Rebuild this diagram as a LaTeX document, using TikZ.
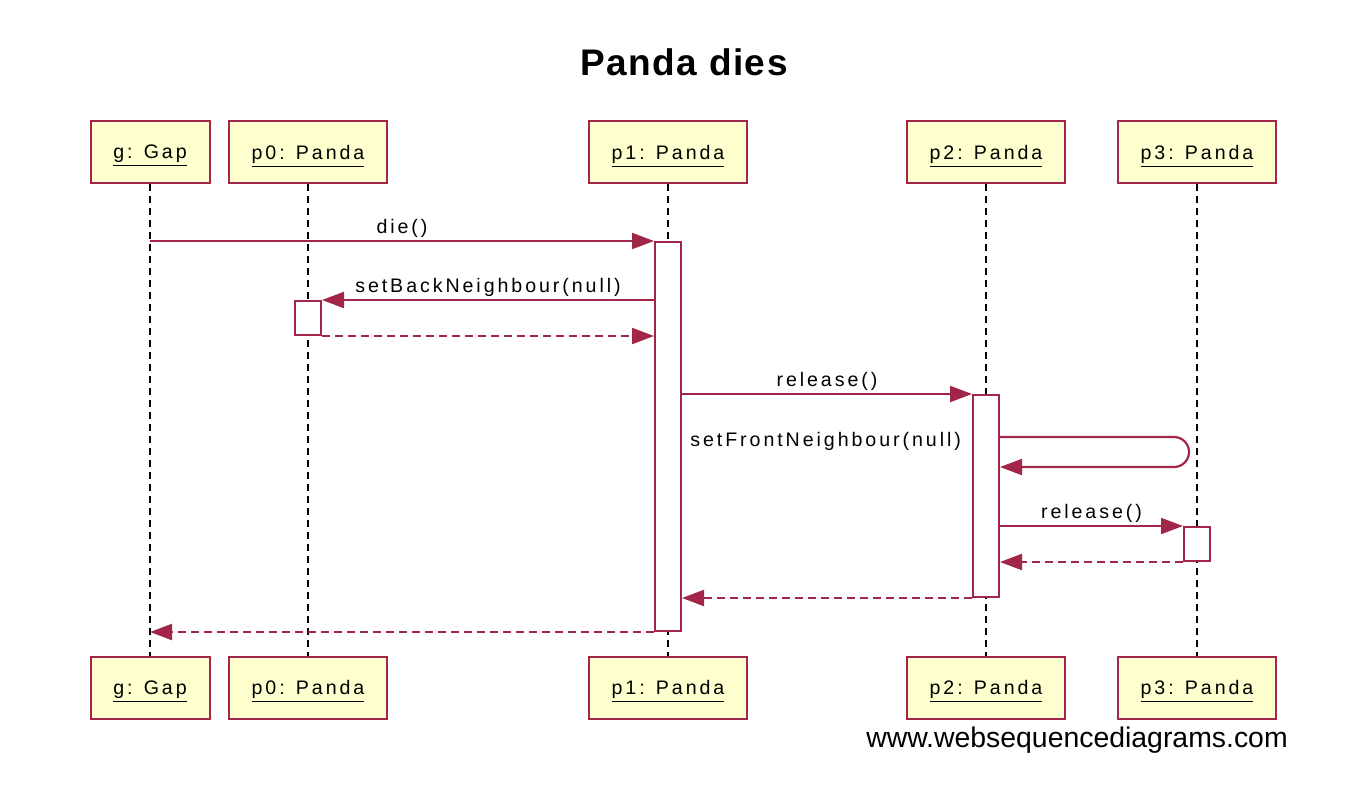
\documentclass[tikz,border=0pt]{standalone}
\usepackage{fontspec}
\setmainfont{Liberation Sans}
\newfontfamily\lblfont{Liberation Sans}[LetterSpace=15]
\newfontfamily\ttlfont{Liberation Sans}[LetterSpace=4]
\usetikzlibrary{arrows.meta}
\definecolor{wsdred}{RGB}{162,38,72}
\definecolor{wsdfill}{HTML}{FEFECE}

\begin{document}
\begin{tikzpicture}[x=0.5pt,y=-0.5pt,
    actor/.style={draw=wsdred,fill=wsdfill,line width=1pt,minimum height=31pt,text depth=0pt,font=\lblfont\fontsize{9.8}{11}\selectfont},
    life/.style={line width=1pt,dash pattern=on 3.5pt off 2.5pt},
    act/.style={draw=wsdred,fill=white,line width=1pt,minimum width=13pt,inner sep=0pt},
    msg/.style={draw=wsdred,line width=1.1pt,-{Triangle[length=11pt,width=8pt]}},
    ret/.style={msg,dash pattern=on 4pt off 2.5pt},
    lbl/.style={font=\lblfont\fontsize{9.8}{11}\selectfont,inner sep=1pt}]
    \useasboundingbox (0,0) rectangle (1366,810);
    \node[font=\ttlfont\fontsize{18.5}{21}\selectfont\bfseries] (title) at (684,62) {Panda dies};
    \foreach \n/\t/\x/\w in {g/g: Gap/150/59.5pt, p0/p0: Panda/308/79pt, p1/p1: Panda/668/79pt, p2/p2: Panda/986/79pt, p3/p3: Panda/1197/79pt}{
        \node[actor,minimum width=\w] (top\n) at (\x,152) {\underline{\t}};
        \node[actor,minimum width=\w] (bot\n) at (\x,687.5) {\underline{\t}};
        \draw[life] (top\n) -- (bot\n);
    }
    \node[act,minimum height=194.5pt] (act1) at (topp1 |- 0,436.5) {};
    \node[act,minimum height=17pt] (act0) at (topp0 |- 0,318) {};
    \node[act,minimum height=101pt] (act2) at (topp2 |- 0,496) {};
    \node[act,minimum height=17pt] (act3) at (topp3 |- 0,544) {};
    \draw[msg] (act1.north west -| topg) -- node[lbl,above=0pt] {die()} (act1.north west);
    \draw[msg] (act1.west |- act0.north) -- node[lbl,above=0pt] {setBackNeighbour(null)} (act0.north east);
    \draw[ret] (act0.south east) -- (act1.west |- act0.south);
    \draw[msg] (act1.east |- act2.north) -- node[lbl,above=0pt] {release()} (act2.north west);
    \draw[msg] (act2.east |- 0,437) node[lbl,anchor=east,xshift=-18pt,yshift=-2pt] {setFrontNeighbour(null)} -- ++(174,0) arc[start angle=-90,end angle=90,radius=15] -- (act2.east |- 0,467);
    \draw[msg] (act2.east |- act3.north) -- node[lbl,above=0pt] {release()} (act3.north west);
    \draw[ret] (act3.south west) -- (act2.east |- act3.south);
    \draw[ret] (act2.south west) -- (act1.east |- act2.south);
    \draw[ret] (act1.south west) -- (act1.south west -| topg);
    \node[font=\fontsize{14.2}{17}\selectfont] (wsd) at (1077,740) {www.websequencediagrams.com};
\end{tikzpicture}
\end{document}
